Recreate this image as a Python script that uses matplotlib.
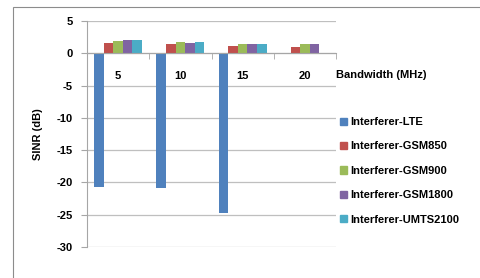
import matplotlib
matplotlib.use("Agg")
import matplotlib.pyplot as plt
from matplotlib.patches import Rectangle, Patch
import numpy as np

plt.rcParams['font.family'] = ['Liberation Sans', 'DejaVu Sans']

categories = ["5", "10", "15", "20"]
series_names = ["Interferer-LTE", "Interferer-GSM850", "Interferer-GSM900",
                "Interferer-GSM1800", "Interferer-UMTS2100"]
lte = [-20.7, -20.9, -24.8, np.nan]
gsm850 = [1.6, 1.4, 1.2, 0.95]
gsm900 = [1.9, 1.75, 1.5, 1.45]
gsm1800 = [2.0, 1.65, 1.5, 1.45]
umts2100 = [2.1, 1.75, 1.5, np.nan]
values = [lte, gsm850, gsm900, gsm1800, umts2100]
colors = ["#4F81BD", "#C0504D", "#9BBB59", "#8064A2", "#4BACC6"]
yticks = [5, 0, -5, -10, -15, -20, -25, -30]

W, H = 481, 278
fig = plt.figure(figsize=(W / 100, H / 100), dpi=100)
fig.patches.append(Rectangle((13 / W, -0.1), 1.1, 1 - 7 / H + 0.1,
                             transform=fig.transFigure, fill=False,
                             edgecolor="#8C8C8C", linewidth=0.8))

ax = fig.add_axes([87 / W, 1 - 247 / H, (336 - 87) / W, (247 - 21) / H])
x = np.arange(len(categories))
w = 1 / 6.5
for i, (vals, c) in enumerate(zip(values, colors)):
    ax.bar(x + (i - 2) * w, vals, width=w, color=c, zorder=3)

ax.set_xlim(-0.5, len(categories) - 0.5)
ax.set_ylim(-30, 5)
ax.set_yticks(yticks)
ax.set_yticklabels([str(t) for t in yticks], fontsize=8, fontweight="bold")
ax.grid(axis="y", color="#BFBFBF", linewidth=0.9, zorder=0)
for s in ["top", "right"]:
    ax.spines[s].set_visible(False)
ax.spines["left"].set_color("#A6A6A6")
ax.spines["bottom"].set_color("#A6A6A6")
ax.spines["bottom"].set_position(("data", 0))
ax.spines["bottom"].set_zorder(4)
ax.tick_params(axis="y", length=4, color="#A6A6A6", pad=6)
ax.set_xticks(x)
ax.set_xticklabels(categories, fontsize=8, fontweight="bold")
ax.tick_params(axis="x", which="major", length=0, pad=12.5)
ax.set_xticks(np.arange(-0.5, len(categories)), minor=True)
ax.tick_params(axis="x", which="minor", length=4, color="#A6A6A6", direction="out")
ax.set_ylabel("SINR (dB)", fontsize=8, fontweight="bold", labelpad=10)

fig.text(336 / W, 1 - 75 / H, "Bandwidth (MHz)", fontsize=8, fontweight="bold",
         ha="left", va="center")

handles = [Patch(color=c) for c in colors]
fig.legend(handles, series_names, loc="upper left",
           bbox_to_anchor=(340 / W, 1 - 117 / H), frameon=False,
           prop={"size": 8, "weight": "bold"}, handlelength=0.6, handleheight=0.6,
           handletextpad=0.3, labelspacing=1.3, borderaxespad=0, borderpad=0)

fig.savefig("out.png", dpi=100)
